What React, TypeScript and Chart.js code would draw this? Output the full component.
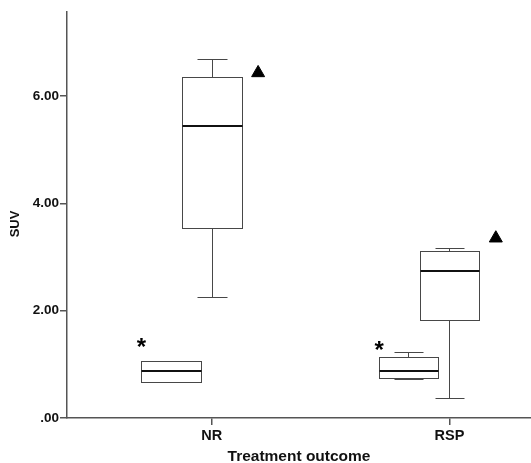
import React, { useEffect, useRef } from 'react';
import { Chart, registerables } from 'chart.js';

Chart.register(...registerables);

// ---- data ----
const categories = ['NR', 'RSP'];
const yTickValues = [0, 2, 4, 6];
const yTickLabels = ['.00', '2.00', '4.00', '6.00'];
const xTitle = 'Treatment outcome';
const yTitle = 'SUV';

// boxes marked with "*"
const starMin = [0.68, 0.73];
const starQ1 = [0.68, 0.75];
const starMedian = [0.88, 0.875];
const starQ3 = [1.07, 1.13];
const starMax = [1.07, 1.23];

// boxes marked with "▲"
const triMin = [2.25, 0.38];
const triQ1 = [3.54, 1.82];
const triMedian = [5.44, 2.74];
const triQ3 = [6.36, 3.11];
const triMax = [6.68, 3.16];

// marker positions (y values)
const starMarkY = [1.4, 1.35];
const triMarkY = [6.43, 3.35];

// ---- layout constants (in category units) ----
const FONT = '"Liberation Sans", Arial, Helvetica, sans-serif';
const STAR_BOX_OFFSET = -0.1726;
const BOX_WIDTH = 0.2505;
const CAP_WIDTH = 0.124;
const STAR_MARK_OFFSET = -0.296;
const TRI_MARK_OFFSET = 0.195;

const crisp = (v: number) => Math.round(v) + 0.5;

const boxPlugin = {
  id: 'spssBoxes',
  afterDatasetsDraw(chart: any) {
    const { ctx, scales, chartArea } = chart;
    const x = scales.x;
    const y = scales.y;
    const groups = [
      { off: STAR_BOX_OFFSET, min: starMin, q1: starQ1, med: starMedian, q3: starQ3, max: starMax },
      { off: 0, min: triMin, q1: triQ1, med: triMedian, q3: triQ3, max: triMax },
    ];
    ctx.save();
    groups.forEach((g) => {
      categories.forEach((_, i) => {
        const c = i + 1 + g.off;
        const xc = crisp(x.getPixelForValue(c));
        const xl = crisp(x.getPixelForValue(c - BOX_WIDTH / 2));
        const xr = crisp(x.getPixelForValue(c + BOX_WIDTH / 2));
        const cl = crisp(x.getPixelForValue(c - CAP_WIDTH / 2));
        const cr = crisp(x.getPixelForValue(c + CAP_WIDTH / 2));
        const pMin = crisp(y.getPixelForValue(g.min[i]));
        const pQ1 = crisp(y.getPixelForValue(g.q1[i]));
        const pMed = y.getPixelForValue(g.med[i]);
        const pQ3 = crisp(y.getPixelForValue(g.q3[i]));
        const pMax = crisp(y.getPixelForValue(g.max[i]));
        ctx.strokeStyle = '#474747';
        ctx.lineWidth = 1;
        ctx.beginPath();
        ctx.moveTo(xc, pMax);
        ctx.lineTo(xc, pQ3);
        ctx.moveTo(xc, pQ1);
        ctx.lineTo(xc, pMin);
        ctx.moveTo(cl, pMax);
        ctx.lineTo(cr, pMax);
        ctx.moveTo(cl, pMin);
        ctx.lineTo(cr, pMin);
        ctx.stroke();
        ctx.fillStyle = '#ffffff';
        ctx.fillRect(xl, pQ3, xr - xl, pQ1 - pQ3);
        ctx.strokeRect(xl, pQ3, xr - xl, pQ1 - pQ3);
        ctx.beginPath();
        ctx.lineWidth = 2;
        ctx.strokeStyle = '#111111';
        ctx.moveTo(xl, Math.round(pMed));
        ctx.lineTo(xr, Math.round(pMed));
        ctx.stroke();
      });
    });

    // asterisk markers
    ctx.font = `bold 24px ${FONT}`;
    ctx.fillStyle = '#000';
    ctx.textAlign = 'center';
    ctx.textBaseline = 'alphabetic';
    const m = ctx.measureText('*');
    const dy = (m.actualBoundingBoxAscent - m.actualBoundingBoxDescent) / 2;
    starMarkY.forEach((v, i) => {
      ctx.fillText('*', x.getPixelForValue(i + 1 + STAR_MARK_OFFSET), y.getPixelForValue(v) + dy);
    });

    // y axis title
    ctx.save();
    ctx.translate(15, (chartArea.top + chartArea.bottom) / 2 + 9);
    ctx.rotate(-Math.PI / 2);
    ctx.font = `bold 13px ${FONT}`;
    ctx.fillStyle = '#111';
    ctx.textAlign = 'center';
    ctx.textBaseline = 'middle';
    ctx.fillText(yTitle, 0, 0);
    ctx.restore();

    ctx.restore();
  },
};

export default function App() {
  const ref = useRef<HTMLCanvasElement | null>(null);
  useEffect(() => {
    document.body.style.margin = '0';
    document.body.style.background = '#ffffff';
    const canvas = ref.current;
    if (!canvas) return;
    const chart = new Chart(canvas, {
      type: 'scatter',
      data: {
        datasets: [
          {
            label: 'markers',
            data: triMarkY.map((v, i) => ({ x: i + 1 + TRI_MARK_OFFSET, y: v })),
            pointStyle: 'triangle',
            pointRadius: 7.5,
            pointHoverRadius: 7.5,
            backgroundColor: '#000',
            borderColor: '#000',
            borderWidth: 1,
            showLine: false,
            clip: false,
          },
        ],
      },
      options: {
        responsive: false,
        animation: false,
        devicePixelRatio: 1,
        layout: { autoPadding: false, padding: { top: 12, left: 0, right: 0, bottom: 0 } },
        plugins: {
          legend: { display: false },
          tooltip: { enabled: false },
        },
        scales: {
          x: {
            type: 'linear',
            min: 0.391,
            max: 2.343,
            afterBuildTicks: (s: any) => {
              s.ticks = categories.map((_, i) => ({ value: i + 1 }));
            },
            afterFit: (s: any) => {
              s.height = 45;
              s.paddingLeft = 0;
              s.paddingRight = 0;
            },
            ticks: {
              callback: (_v: any, i: number) => categories[i],
              font: { family: FONT, size: 14.5, weight: 'bold' },
              color: '#111',
              padding: 2,
              autoSkip: false,
              maxRotation: 0,
            },
            grid: {
              display: true,
              drawOnChartArea: false,
              drawTicks: true,
              tickLength: 7,
              color: '#555',
              lineWidth: 1.5,
            },
            border: { display: true, color: '#555', width: 1.5 },
            title: {
              display: true,
              text: xTitle,
              font: { family: FONT, size: 15.5, weight: 'bold', lineHeight: 0.8 },
              color: '#111',
              padding: 0,
            },
          },
          y: {
            type: 'linear',
            min: 0,
            max: 7.565,
            afterBuildTicks: (s: any) => {
              s.ticks = yTickValues.map((v) => ({ value: v }));
            },
            afterFit: (s: any) => {
              s.width = 67;
              s.paddingTop = 0;
              s.paddingBottom = 0;
            },
            ticks: {
              callback: (_v: any, i: number) => yTickLabels[i],
              font: { family: FONT, size: 13.5, weight: 'bold' },
              color: '#111',
              padding: 1,
            },
            grid: {
              display: true,
              drawOnChartArea: false,
              drawTicks: true,
              tickLength: 7,
              color: '#555',
              lineWidth: 1.5,
            },
            border: { display: true, color: '#555', width: 1.5 },
            title: { display: false },
          },
        },
      },
      plugins: [boxPlugin],
    } as any);
    return () => chart.destroy();
  }, []);
  return (
    <canvas
      ref={ref}
      width={531}
      height={463}
      style={{ display: 'block', width: 531, height: 463 }}
    />
  );
}
